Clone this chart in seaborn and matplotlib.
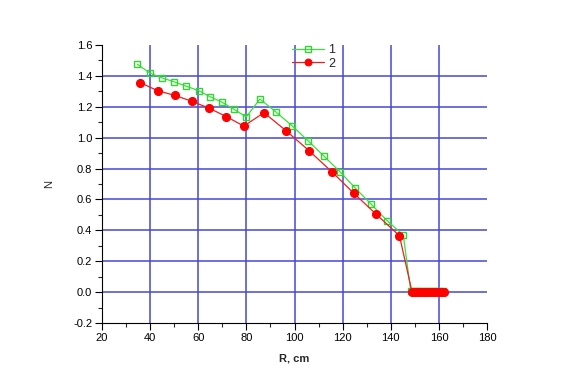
import numpy as np
import pandas as pd
import matplotlib
matplotlib.use("Agg")
import matplotlib.pyplot as plt
import seaborn as sns
from matplotlib.ticker import MultipleLocator

# series 1 (green open squares)
r1 = [34.7, 40.0, 44.8, 49.9, 54.9, 60.2, 64.9, 70.0, 74.9, 79.9, 85.6, 92.3, 99.1,
      105.6, 112.3, 118.9, 125.3, 131.8, 138.5, 145.2,
      148.3, 149.5, 150.7, 151.9, 153.1, 154.3, 155.5, 156.7, 157.9, 159.1, 160.3, 161.5]
n1 = [1.475, 1.417, 1.388, 1.362, 1.334, 1.304, 1.265, 1.229, 1.183, 1.134, 1.25, 1.166, 1.075,
      0.98, 0.879, 0.779, 0.672, 0.570, 0.462, 0.369,
      0.005, 0.005, 0.005, 0.005, 0.005, 0.005, 0.005, 0.005, 0.005, 0.005, 0.005, 0.005]

# series 2 (red filled circles)
r2 = [35.9, 43.1, 50.2, 57.4, 64.6, 71.7, 78.9, 87.3, 96.6, 106.0, 115.5,
      124.7, 134.0, 143.6,
      148.8, 150.0, 151.2, 152.4, 153.6, 154.8, 156.0, 157.2, 158.4, 159.6, 160.8, 162.0]
n2 = [1.356, 1.304, 1.274, 1.235, 1.19, 1.136, 1.075, 1.162, 1.043, 0.916, 0.779,
      0.639, 0.503, 0.365,
      0.003, 0.003, 0.003, 0.003, 0.003, 0.003, 0.003, 0.003, 0.003, 0.003, 0.003, 0.003]

xgrid = [40, 60, 80, 100, 120, 140, 160]
ygrid = [0.0, 0.2, 0.4, 0.6, 0.8, 1.0, 1.2, 1.4]

sns.set_style("ticks")
plt.rcParams['font.family'] = ['Liberation Sans', 'DejaVu Sans']

fig = plt.figure(figsize=(5.67, 3.87), dpi=100)
ax = fig.add_axes([0.18, 0.1654, 0.679, 0.7183])

grid_col = "#4646d6"
for gx in xgrid:
    ax.axvline(gx, color=grid_col, lw=1.1, zorder=1)
for gy in ygrid:
    ax.axhline(gy, color=grid_col, lw=1.1, zorder=1)

d1 = pd.DataFrame({"R": r1, "N": n1})
d2 = pd.DataFrame({"R": r2, "N": n2})
sns.lineplot(data=d1, x="R", y="N", ax=ax, color="#3ce03c", lw=0.9, marker="s",
             markersize=5, markerfacecolor="none", markeredgecolor="#2ed82e",
             markeredgewidth=1.0, label="1", zorder=3, estimator=None)
sns.lineplot(data=d2, x="R", y="N", ax=ax, color="#e82020", lw=0.9, marker="o",
             markersize=5.8, markerfacecolor="#ff0000", markeredgecolor="#ff0000",
             label="2", zorder=4, estimator=None)

ax.set_xlim(20, 180)
ax.set_ylim(-0.2, 1.6)
ax.xaxis.set_major_locator(MultipleLocator(20))
ax.xaxis.set_minor_locator(MultipleLocator(10))
ax.yaxis.set_major_locator(MultipleLocator(0.2))
ax.yaxis.set_minor_locator(MultipleLocator(0.1))
ax.yaxis.set_major_formatter(matplotlib.ticker.FormatStrFormatter('%.1f'))
ax.tick_params(which="major", length=5, width=0.8, labelsize=8, colors="black", pad=2)
ax.tick_params(which="minor", length=3, width=0.8)

for s in ["top", "right"]:
    ax.spines[s].set_visible(False)
for s in ["left", "bottom"]:
    ax.spines[s].set_color("black")
    ax.spines[s].set_linewidth(0.8)

ax.set_xlabel("R, cm", fontsize=8, fontweight="bold", labelpad=8)
ax.set_ylabel("N", fontsize=8, labelpad=14)

leg = ax.legend(loc="upper left", bbox_to_anchor=(0.48, 1.02), frameon=False,
                fontsize=9, handlelength=2.6, handletextpad=0.3, labelspacing=0.1,
                borderaxespad=0, markerscale=0.85)

fig.savefig("out.png", dpi=100, facecolor="white")
